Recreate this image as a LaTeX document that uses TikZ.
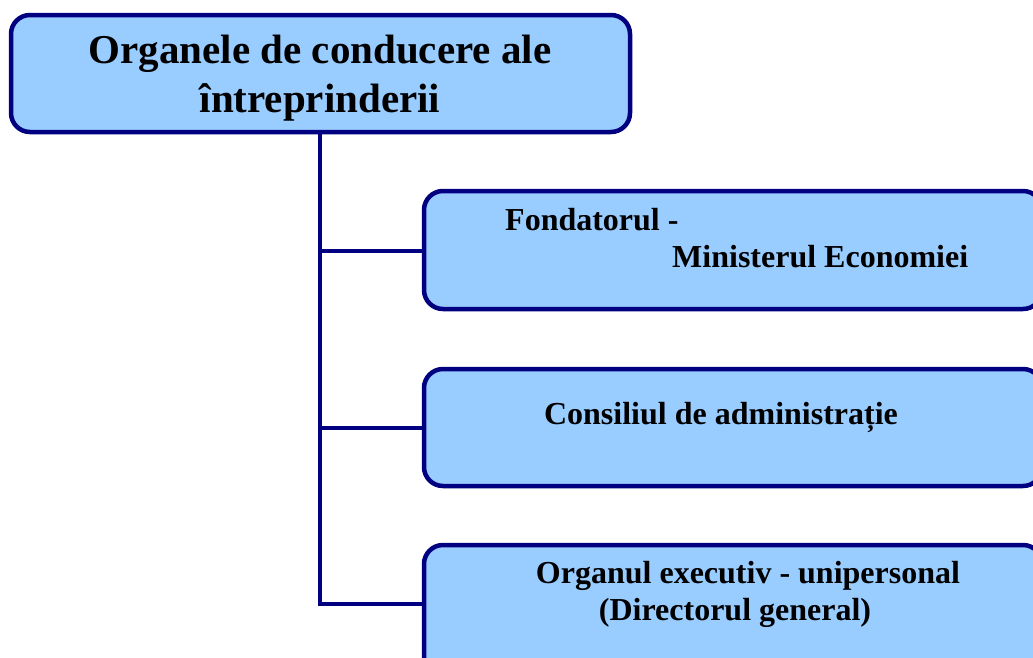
\documentclass[tikz,border=0pt]{standalone}
\usepackage{fontspec}
\setmainfont{Liberation Serif}
\definecolor{boxfill}{HTML}{99CCFF}
\definecolor{navyline}{HTML}{000080}
\begin{document}
\begin{tikzpicture}[x=1pt,y=-1pt,
  orgbox/.style={draw=navyline,fill=boxfill,line width=4.5pt,rounded corners=19pt},
  conn/.style={draw=navyline,line width=4.5pt},
  txt/.style={inner sep=0pt,font=\bfseries\fontsize{32}{38}\selectfont},
  ttl/.style={inner sep=0pt,font=\bfseries\fontsize{41}{48}\selectfont}]
\useasboundingbox (0,0) rectangle (1033,657);
\clip (0,0) rectangle (1033,657);
% boxes
\draw[orgbox] (11,15) rectangle (630,132);
\coordinate (topbot) at (320,132);
\draw[orgbox] (424,191) rectangle (1042,309);
\draw[orgbox] (424,369) rectangle (1042,486);
\draw[orgbox] (424,545) rectangle (1042,680);
\coordinate (b1) at (424,251);
\coordinate (b2) at (424,428);
\coordinate (b3) at (424,604);
\coordinate (j1) at (320,251);
\coordinate (j2) at (320,428);
\coordinate (j3) at (320,604);
% connectors
\draw[conn] (topbot) -- (j1) -- (j2) -- (j3) -- (b3);
\draw[conn] (j1) -- (b1);
\draw[conn] (j2) -- (b2);
% texts
\node[ttl,anchor=base] (t1) at (320,63) {Organele de conducere ale};
\node[ttl,anchor=base] (t2) at (320,112) {întreprinderii};
\node[txt,anchor=base west] (f1) at (505,230) {Fondatorul -};
\node[txt,anchor=base west] (f2) at (672,267) {Ministerul Economiei};
\node[txt,anchor=base] (c1) at (721,424) {Consiliul de administrație};
\node[txt,anchor=base] (o1) at (748,583) {Organul executiv - unipersonal};
\node[txt,anchor=base] (o2) at (735,620) {(Directorul general)};
\end{tikzpicture}
\end{document}
